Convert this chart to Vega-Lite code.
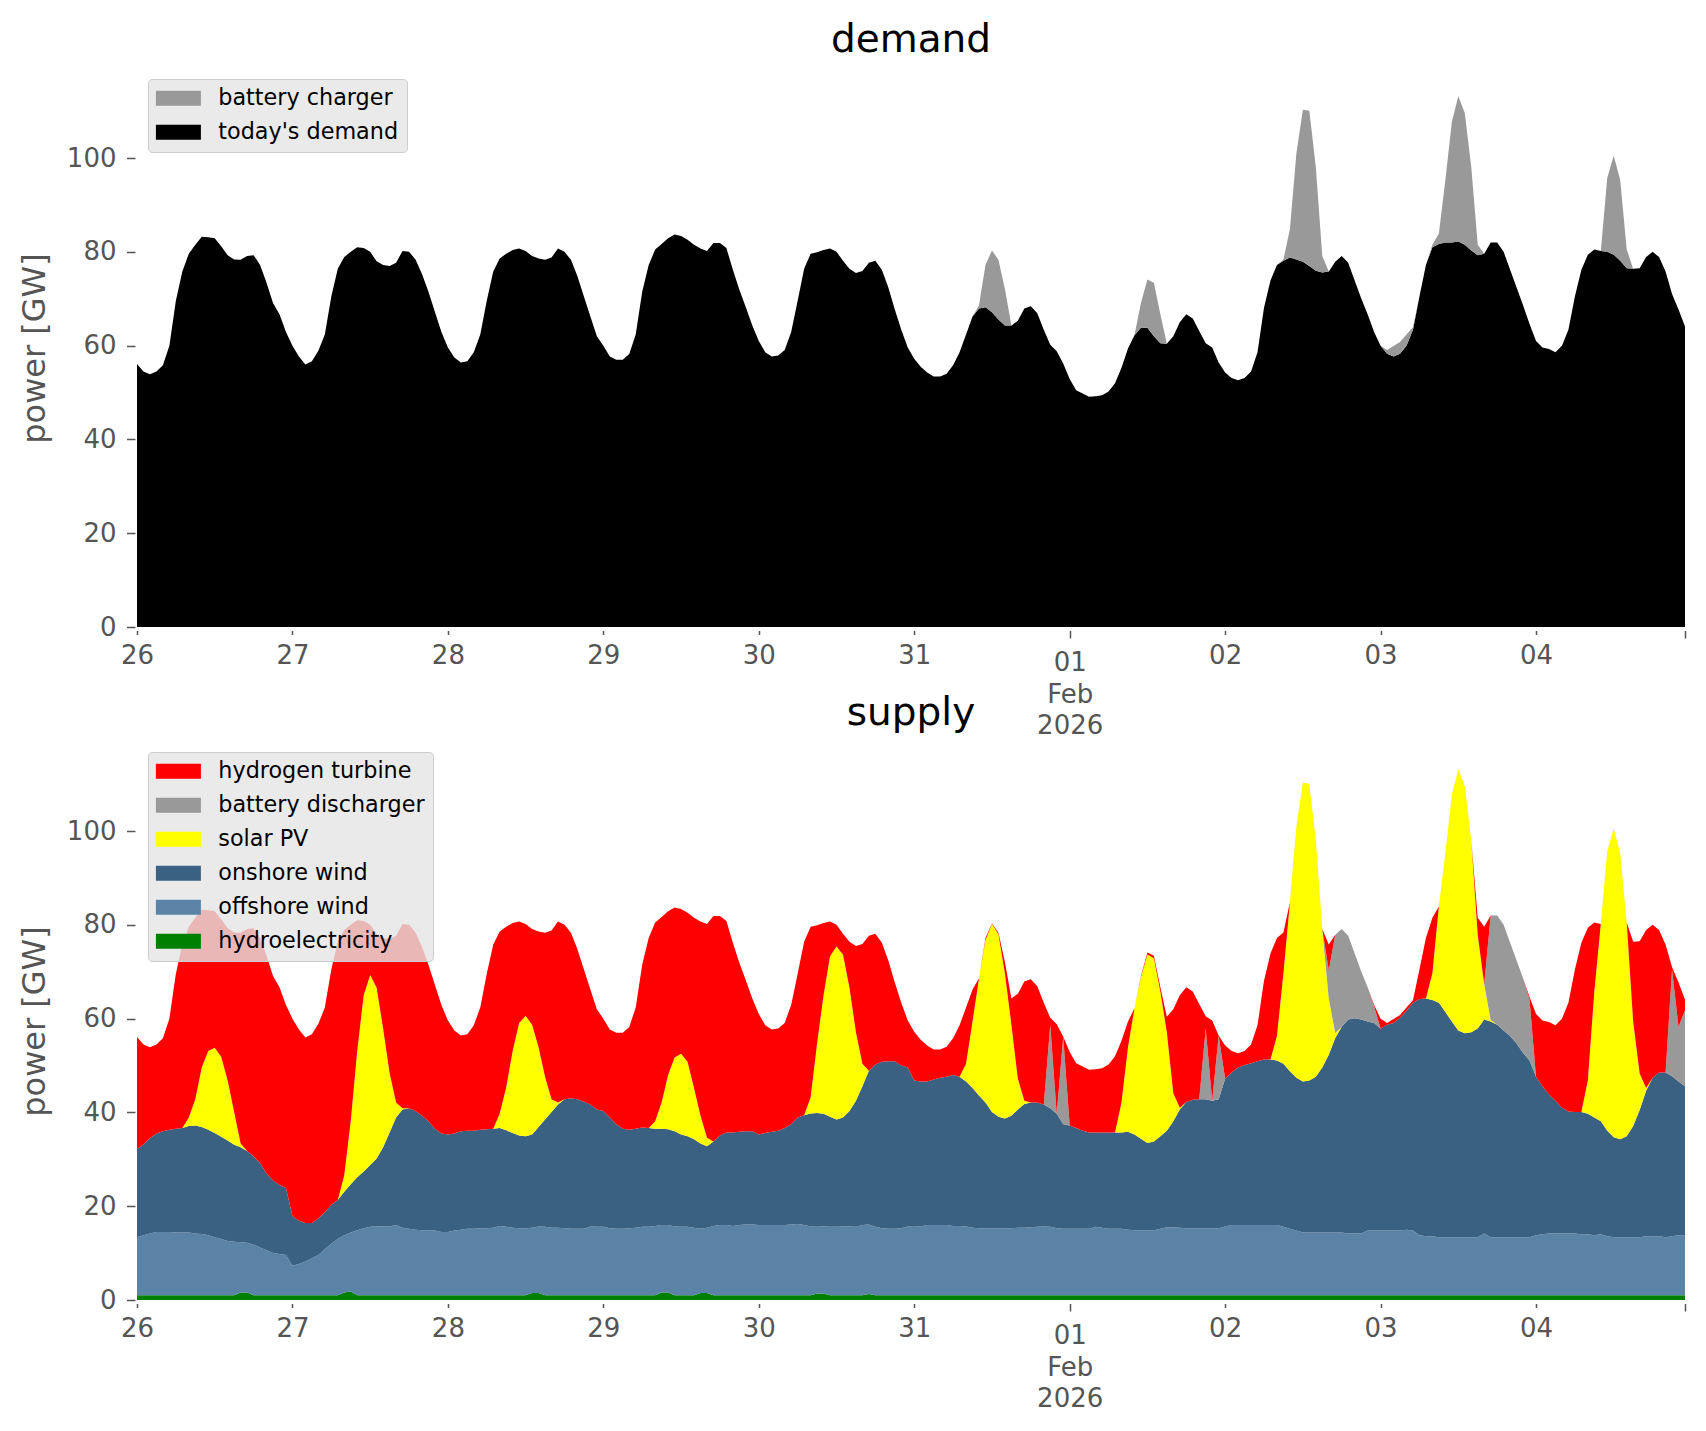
{
  "$schema": "https://vega.github.io/schema/vega-lite/v6.json",
  "padding": {"left": 18, "top": 21, "right": 10, "bottom": 10},
  "datasets": {
    "series": [
      {"k": "dem", "name": "today's demand", "rank": 1},
      {"k": "chg", "name": "battery charger", "rank": 2},
      {"k": "hyd", "name": "hydroelectricity", "rank": 1},
      {"k": "off", "name": "offshore wind", "rank": 2},
      {"k": "on", "name": "onshore wind", "rank": 3},
      {"k": "pv", "name": "solar PV", "rank": 4},
      {"k": "dis", "name": "battery discharger", "rank": 5},
      {"k": "h2", "name": "hydrogen turbine", "rank": 6}
    ],
    "hourly": [
      {"t":"2026-01-26T00:00","dem":56.1,"chg":0,"hyd":1,"off":12.4,"on":18.8,"pv":0,"dis":0,"h2":23.9},
      {"t":"2026-01-26T01:00","dem":54.5,"chg":0,"hyd":1,"off":12.8,"on":19.4,"pv":0,"dis":0,"h2":21.3},
      {"t":"2026-01-26T02:00","dem":53.9,"chg":0,"hyd":1,"off":13.2,"on":20.3,"pv":0,"dis":0,"h2":19.4},
      {"t":"2026-01-26T03:00","dem":54.5,"chg":0,"hyd":1,"off":13.5,"on":21,"pv":0,"dis":0,"h2":19},
      {"t":"2026-01-26T04:00","dem":55.8,"chg":0,"hyd":1,"off":13.5,"on":21.5,"pv":0,"dis":0,"h2":19.8},
      {"t":"2026-01-26T05:00","dem":60,"chg":0,"hyd":1,"off":13.5,"on":21.8,"pv":0,"dis":0,"h2":23.7},
      {"t":"2026-01-26T06:00","dem":69.6,"chg":0,"hyd":1,"off":13.4,"on":22.1,"pv":0,"dis":0,"h2":33.1},
      {"t":"2026-01-26T07:00","dem":75.8,"chg":0,"hyd":1,"off":13.4,"on":22.3,"pv":0,"dis":0,"h2":39.1},
      {"t":"2026-01-26T08:00","dem":79.6,"chg":0,"hyd":1,"off":13.4,"on":22.7,"pv":1.8,"dis":0,"h2":40.7},
      {"t":"2026-01-26T09:00","dem":81.5,"chg":0,"hyd":1,"off":13.2,"on":23,"pv":5.6,"dis":0,"h2":38.7},
      {"t":"2026-01-26T10:00","dem":83.2,"chg":0,"hyd":1,"off":13.1,"on":22.8,"pv":12.7,"dis":0,"h2":33.6},
      {"t":"2026-01-26T11:00","dem":83.1,"chg":0,"hyd":1,"off":12.8,"on":22.5,"pv":16.8,"dis":0,"h2":30},
      {"t":"2026-01-26T12:00","dem":82.9,"chg":0,"hyd":1,"off":12.4,"on":22.2,"pv":18.2,"dis":0,"h2":29.1},
      {"t":"2026-01-26T13:00","dem":81.2,"chg":0,"hyd":1,"off":12,"on":21.8,"pv":17.1,"dis":0,"h2":29.3},
      {"t":"2026-01-26T14:00","dem":79.3,"chg":0,"hyd":1,"off":11.6,"on":21.4,"pv":12.8,"dis":0,"h2":32.5},
      {"t":"2026-01-26T15:00","dem":78.4,"chg":0,"hyd":1,"off":11.4,"on":20.7,"pv":7,"dis":0,"h2":38.3},
      {"t":"2026-01-26T16:00","dem":78.3,"chg":0,"hyd":1.6,"off":10.7,"on":20.3,"pv":0.8,"dis":0,"h2":44.9},
      {"t":"2026-01-26T17:00","dem":79.1,"chg":0,"hyd":1.6,"off":10.6,"on":19.6,"pv":0,"dis":0,"h2":47.3},
      {"t":"2026-01-26T18:00","dem":79.3,"chg":0,"hyd":1,"off":10.8,"on":18.8,"pv":0,"dis":0,"h2":48.7},
      {"t":"2026-01-26T19:00","dem":77.2,"chg":0,"hyd":1,"off":10.2,"on":18,"pv":0,"dis":0,"h2":48},
      {"t":"2026-01-26T20:00","dem":73.4,"chg":0,"hyd":1,"off":9.6,"on":16.4,"pv":0,"dis":0,"h2":46.4},
      {"t":"2026-01-26T21:00","dem":69.1,"chg":0,"hyd":1,"off":9,"on":15.5,"pv":0,"dis":0,"h2":43.6},
      {"t":"2026-01-26T22:00","dem":66.7,"chg":0,"hyd":1,"off":8.8,"on":14.7,"pv":0,"dis":0,"h2":42.2},
      {"t":"2026-01-26T23:00","dem":62.9,"chg":0,"hyd":1,"off":8.6,"on":14.3,"pv":0,"dis":0,"h2":39},
      {"t":"2026-01-27T00:00","dem":60,"chg":0,"hyd":1,"off":6.3,"on":10.6,"pv":0,"dis":0,"h2":42.1},
      {"t":"2026-01-27T01:00","dem":57.7,"chg":0,"hyd":1,"off":6.7,"on":9.2,"pv":0,"dis":0,"h2":40.8},
      {"t":"2026-01-27T02:00","dem":56,"chg":0,"hyd":1,"off":7.2,"on":8.2,"pv":0,"dis":0,"h2":39.6},
      {"t":"2026-01-27T03:00","dem":56.7,"chg":0,"hyd":1,"off":7.9,"on":7.5,"pv":0,"dis":0,"h2":40.3},
      {"t":"2026-01-27T04:00","dem":58.9,"chg":0,"hyd":1,"off":8.6,"on":7.8,"pv":0,"dis":0,"h2":41.5},
      {"t":"2026-01-27T05:00","dem":62.4,"chg":0,"hyd":1,"off":9.8,"on":7.9,"pv":0,"dis":0,"h2":43.7},
      {"t":"2026-01-27T06:00","dem":70.5,"chg":0,"hyd":1,"off":11,"on":8.3,"pv":0,"dis":0,"h2":50.2},
      {"t":"2026-01-27T07:00","dem":76.4,"chg":0,"hyd":1,"off":12,"on":8.3,"pv":0,"dis":0,"h2":55.1},
      {"t":"2026-01-27T08:00","dem":78.9,"chg":0,"hyd":1.6,"off":12.2,"on":9.3,"pv":3.5,"dis":0,"h2":52.3},
      {"t":"2026-01-27T09:00","dem":80,"chg":0,"hyd":1.8,"off":12.6,"on":10.3,"pv":13.4,"dis":0,"h2":41.9},
      {"t":"2026-01-27T10:00","dem":81,"chg":0,"hyd":1,"off":13.9,"on":11.3,"pv":26.9,"dis":0,"h2":27.9},
      {"t":"2026-01-27T11:00","dem":80.8,"chg":0,"hyd":1,"off":14.3,"on":12.1,"pv":37.6,"dis":0,"h2":15.8},
      {"t":"2026-01-27T12:00","dem":80,"chg":0,"hyd":1,"off":14.6,"on":13.2,"pv":40.5,"dis":0,"h2":10.7},
      {"t":"2026-01-27T13:00","dem":78,"chg":0,"hyd":1,"off":14.7,"on":14.5,"pv":36.4,"dis":0,"h2":11.4},
      {"t":"2026-01-27T14:00","dem":77.2,"chg":0,"hyd":1,"off":14.7,"on":16.9,"pv":25.3,"dis":0,"h2":19.3},
      {"t":"2026-01-27T15:00","dem":77,"chg":0,"hyd":1,"off":14.7,"on":20,"pv":12.7,"dis":0,"h2":28.6},
      {"t":"2026-01-27T16:00","dem":77.7,"chg":0,"hyd":1,"off":15,"on":22.9,"pv":3.2,"dis":0,"h2":35.6},
      {"t":"2026-01-27T17:00","dem":80.2,"chg":0,"hyd":1,"off":14.4,"on":25.2,"pv":0.3,"dis":0,"h2":39.3},
      {"t":"2026-01-27T18:00","dem":80,"chg":0,"hyd":1,"off":14.2,"on":25.7,"pv":0,"dis":0,"h2":39.1},
      {"t":"2026-01-27T19:00","dem":78.4,"chg":0,"hyd":1,"off":14,"on":25.3,"pv":0,"dis":0,"h2":38.1},
      {"t":"2026-01-27T20:00","dem":75.3,"chg":0,"hyd":1,"off":13.9,"on":24.4,"pv":0,"dis":0,"h2":36},
      {"t":"2026-01-27T21:00","dem":71.5,"chg":0,"hyd":1,"off":13.9,"on":23.2,"pv":0,"dis":0,"h2":33.4},
      {"t":"2026-01-27T22:00","dem":67.2,"chg":0,"hyd":1,"off":13.8,"on":21.7,"pv":0,"dis":0,"h2":30.7},
      {"t":"2026-01-27T23:00","dem":62.9,"chg":0,"hyd":1,"off":13.5,"on":21,"pv":0,"dis":0,"h2":27.4},
      {"t":"2026-01-28T00:00","dem":59.6,"chg":0,"hyd":1,"off":13.5,"on":20.8,"pv":0,"dis":0,"h2":24.3},
      {"t":"2026-01-28T01:00","dem":57.5,"chg":0,"hyd":1,"off":13.8,"on":20.7,"pv":0,"dis":0,"h2":22},
      {"t":"2026-01-28T02:00","dem":56.4,"chg":0,"hyd":1,"off":14,"on":21,"pv":0,"dis":0,"h2":20.4},
      {"t":"2026-01-28T03:00","dem":56.7,"chg":0,"hyd":1,"off":14.2,"on":20.9,"pv":0,"dis":0,"h2":20.6},
      {"t":"2026-01-28T04:00","dem":58.6,"chg":0,"hyd":1,"off":14.2,"on":20.9,"pv":0,"dis":0,"h2":22.5},
      {"t":"2026-01-28T05:00","dem":62.4,"chg":0,"hyd":1,"off":14.3,"on":21,"pv":0,"dis":0,"h2":26.1},
      {"t":"2026-01-28T06:00","dem":69.6,"chg":0,"hyd":1,"off":14.3,"on":21.1,"pv":0,"dis":0,"h2":33.2},
      {"t":"2026-01-28T07:00","dem":75.8,"chg":0,"hyd":1,"off":14.4,"on":21.1,"pv":0,"dis":0,"h2":39.3},
      {"t":"2026-01-28T08:00","dem":78.6,"chg":0,"hyd":1,"off":14.8,"on":20.9,"pv":3,"dis":0,"h2":38.9},
      {"t":"2026-01-28T09:00","dem":79.6,"chg":0,"hyd":1,"off":14.6,"on":20.6,"pv":9.1,"dis":0,"h2":34.3},
      {"t":"2026-01-28T10:00","dem":80.4,"chg":0,"hyd":1,"off":14.4,"on":20.2,"pv":17.5,"dis":0,"h2":27.3},
      {"t":"2026-01-28T11:00","dem":80.7,"chg":0,"hyd":1,"off":14.3,"on":19.8,"pv":24,"dis":0,"h2":21.6},
      {"t":"2026-01-28T12:00","dem":80.2,"chg":0,"hyd":1,"off":14.3,"on":19.6,"pv":25.7,"dis":0,"h2":19.6},
      {"t":"2026-01-28T13:00","dem":79.1,"chg":0,"hyd":1.5,"off":13.9,"on":19.9,"pv":23.4,"dis":0,"h2":20.4},
      {"t":"2026-01-28T14:00","dem":78.6,"chg":0,"hyd":1.5,"off":14.2,"on":21.2,"pv":17,"dis":0,"h2":24.7},
      {"t":"2026-01-28T15:00","dem":78.3,"chg":0,"hyd":1,"off":14.6,"on":22.9,"pv":9.1,"dis":0,"h2":30.7},
      {"t":"2026-01-28T16:00","dem":78.8,"chg":0,"hyd":1,"off":14.4,"on":24.7,"pv":2.7,"dis":0,"h2":36},
      {"t":"2026-01-28T17:00","dem":80.7,"chg":0,"hyd":1,"off":14.4,"on":26.3,"pv":0.4,"dis":0,"h2":38.6},
      {"t":"2026-01-28T18:00","dem":80,"chg":0,"hyd":1,"off":14.3,"on":27.5,"pv":0,"dis":0,"h2":37.2},
      {"t":"2026-01-28T19:00","dem":78.3,"chg":0,"hyd":1,"off":14.2,"on":27.8,"pv":0,"dis":0,"h2":35.3},
      {"t":"2026-01-28T20:00","dem":74.8,"chg":0,"hyd":1,"off":14.2,"on":27.6,"pv":0,"dis":0,"h2":32},
      {"t":"2026-01-28T21:00","dem":70.5,"chg":0,"hyd":1,"off":14.2,"on":27.1,"pv":0,"dis":0,"h2":28.2},
      {"t":"2026-01-28T22:00","dem":66.2,"chg":0,"hyd":1,"off":14.7,"on":26,"pv":0,"dis":0,"h2":24.5},
      {"t":"2026-01-28T23:00","dem":62,"chg":0,"hyd":1,"off":14.6,"on":25,"pv":0,"dis":0,"h2":21.4},
      {"t":"2026-01-29T00:00","dem":60,"chg":0,"hyd":1,"off":14.6,"on":24.7,"pv":0,"dis":0,"h2":19.7},
      {"t":"2026-01-29T01:00","dem":57.7,"chg":0,"hyd":1,"off":14.3,"on":23.6,"pv":0,"dis":0,"h2":18.8},
      {"t":"2026-01-29T02:00","dem":57,"chg":0,"hyd":1,"off":14.2,"on":22.3,"pv":0,"dis":0,"h2":19.5},
      {"t":"2026-01-29T03:00","dem":57,"chg":0,"hyd":1,"off":14.2,"on":21.3,"pv":0,"dis":0,"h2":20.5},
      {"t":"2026-01-29T04:00","dem":58.2,"chg":0,"hyd":1,"off":14.3,"on":21,"pv":0,"dis":0,"h2":21.9},
      {"t":"2026-01-29T05:00","dem":62.4,"chg":0,"hyd":1,"off":14.4,"on":21.1,"pv":0,"dis":0,"h2":25.9},
      {"t":"2026-01-29T06:00","dem":71.5,"chg":0,"hyd":1,"off":14.6,"on":21.2,"pv":0,"dis":0,"h2":34.7},
      {"t":"2026-01-29T07:00","dem":77.2,"chg":0,"hyd":1,"off":14.6,"on":21.1,"pv":0,"dis":0,"h2":40.5},
      {"t":"2026-01-29T08:00","dem":80.5,"chg":0,"hyd":1,"off":14.8,"on":20.7,"pv":1.6,"dis":0,"h2":42.4},
      {"t":"2026-01-29T09:00","dem":81.7,"chg":0,"hyd":1.6,"off":14.4,"on":20.5,"pv":5.6,"dis":0,"h2":39.6},
      {"t":"2026-01-29T10:00","dem":82.9,"chg":0,"hyd":1.6,"off":14.4,"on":20.4,"pv":11.6,"dis":0,"h2":34.9},
      {"t":"2026-01-29T11:00","dem":83.7,"chg":0,"hyd":1,"off":14.7,"on":20.3,"pv":15.7,"dis":0,"h2":32},
      {"t":"2026-01-29T12:00","dem":83.4,"chg":0,"hyd":1,"off":14.6,"on":19.7,"pv":17.2,"dis":0,"h2":30.9},
      {"t":"2026-01-29T13:00","dem":82.6,"chg":0,"hyd":1,"off":14.6,"on":19.3,"pv":15.9,"dis":0,"h2":31.8},
      {"t":"2026-01-29T14:00","dem":81.5,"chg":0,"hyd":1,"off":14.4,"on":18.9,"pv":10.9,"dis":0,"h2":36.3},
      {"t":"2026-01-29T15:00","dem":80.7,"chg":0,"hyd":1.5,"off":13.7,"on":18.2,"pv":5.9,"dis":0,"h2":41.4},
      {"t":"2026-01-29T16:00","dem":80.2,"chg":0,"hyd":1.5,"off":13.9,"on":17.4,"pv":1.8,"dis":0,"h2":45.6},
      {"t":"2026-01-29T17:00","dem":81.9,"chg":0,"hyd":1,"off":14.8,"on":18,"pv":0,"dis":0,"h2":48.1},
      {"t":"2026-01-29T18:00","dem":81.9,"chg":0,"hyd":1,"off":15,"on":19.1,"pv":0,"dis":0,"h2":46.8},
      {"t":"2026-01-29T19:00","dem":80.8,"chg":0,"hyd":1,"off":15,"on":19.7,"pv":0,"dis":0,"h2":45.1},
      {"t":"2026-01-29T20:00","dem":76.2,"chg":0,"hyd":1,"off":14.8,"on":19.9,"pv":0,"dis":0,"h2":40.5},
      {"t":"2026-01-29T21:00","dem":71.9,"chg":0,"hyd":1,"off":15,"on":19.9,"pv":0,"dis":0,"h2":36},
      {"t":"2026-01-29T22:00","dem":68.2,"chg":0,"hyd":1,"off":15.1,"on":19.9,"pv":0,"dis":0,"h2":32.2},
      {"t":"2026-01-29T23:00","dem":64.3,"chg":0,"hyd":1,"off":15.1,"on":19.9,"pv":0,"dis":0,"h2":28.3},
      {"t":"2026-01-30T00:00","dem":61,"chg":0,"hyd":1,"off":15,"on":19.3,"pv":0,"dis":0,"h2":25.7},
      {"t":"2026-01-30T01:00","dem":58.6,"chg":0,"hyd":1,"off":15,"on":19.6,"pv":0,"dis":0,"h2":23},
      {"t":"2026-01-30T02:00","dem":57.7,"chg":0,"hyd":1,"off":15,"on":19.9,"pv":0,"dis":0,"h2":21.8},
      {"t":"2026-01-30T03:00","dem":57.9,"chg":0,"hyd":1,"off":15,"on":20.1,"pv":0,"dis":0,"h2":21.8},
      {"t":"2026-01-30T04:00","dem":59.1,"chg":0,"hyd":1,"off":15,"on":20.7,"pv":0,"dis":0,"h2":22.4},
      {"t":"2026-01-30T05:00","dem":62.9,"chg":0,"hyd":1,"off":15.1,"on":21.4,"pv":0,"dis":0,"h2":25.4},
      {"t":"2026-01-30T06:00","dem":69.6,"chg":0,"hyd":1,"off":15.2,"on":22.7,"pv":0,"dis":0,"h2":30.7},
      {"t":"2026-01-30T07:00","dem":76.4,"chg":0,"hyd":1,"off":15,"on":23.4,"pv":0,"dis":0,"h2":37},
      {"t":"2026-01-30T08:00","dem":79.6,"chg":0,"hyd":1,"off":14.7,"on":24.1,"pv":3.4,"dis":0,"h2":36.4},
      {"t":"2026-01-30T09:00","dem":79.9,"chg":0,"hyd":1.4,"off":14.2,"on":24.3,"pv":14.8,"dis":0,"h2":25.2},
      {"t":"2026-01-30T10:00","dem":80.4,"chg":0,"hyd":1.4,"off":14.3,"on":24,"pv":25.3,"dis":0,"h2":15.4},
      {"t":"2026-01-30T11:00","dem":80.7,"chg":0,"hyd":1,"off":14.6,"on":23.5,"pv":34.2,"dis":0,"h2":7.4},
      {"t":"2026-01-30T12:00","dem":80,"chg":0,"hyd":1,"off":14.6,"on":22.9,"pv":36.9,"dis":0,"h2":4.6},
      {"t":"2026-01-30T13:00","dem":78.1,"chg":0,"hyd":1,"off":14.7,"on":23.2,"pv":34.8,"dis":0,"h2":4.4},
      {"t":"2026-01-30T14:00","dem":76.4,"chg":0,"hyd":1,"off":14.7,"on":24.6,"pv":26.3,"dis":0,"h2":9.8},
      {"t":"2026-01-30T15:00","dem":75.5,"chg":0,"hyd":1,"off":14.6,"on":26.9,"pv":14.6,"dis":0,"h2":18.4},
      {"t":"2026-01-30T16:00","dem":75.9,"chg":0,"hyd":1,"off":15,"on":29.6,"pv":4.8,"dis":0,"h2":25.5},
      {"t":"2026-01-30T17:00","dem":77.7,"chg":0,"hyd":1.3,"off":14.8,"on":32.8,"pv":0,"dis":0,"h2":28.8},
      {"t":"2026-01-30T18:00","dem":78.1,"chg":0,"hyd":1,"off":14.6,"on":34.6,"pv":0,"dis":0,"h2":27.9},
      {"t":"2026-01-30T19:00","dem":76.2,"chg":0,"hyd":1,"off":14.3,"on":35.5,"pv":0,"dis":0,"h2":25.4},
      {"t":"2026-01-30T20:00","dem":72.4,"chg":0,"hyd":1,"off":14.2,"on":35.7,"pv":0,"dis":0,"h2":21.5},
      {"t":"2026-01-30T21:00","dem":67.7,"chg":0,"hyd":1,"off":14.2,"on":35.7,"pv":0,"dis":0,"h2":16.8},
      {"t":"2026-01-30T22:00","dem":63.4,"chg":0,"hyd":1,"off":14.3,"on":34.7,"pv":0,"dis":0,"h2":13.4},
      {"t":"2026-01-30T23:00","dem":59.6,"chg":0,"hyd":1,"off":14.7,"on":33.9,"pv":0,"dis":0,"h2":10},
      {"t":"2026-01-31T00:00","dem":57.2,"chg":0,"hyd":1,"off":14.6,"on":31.2,"pv":0,"dis":0,"h2":10.4},
      {"t":"2026-01-31T01:00","dem":55.5,"chg":0,"hyd":1,"off":14.7,"on":30.9,"pv":0,"dis":0,"h2":8.9},
      {"t":"2026-01-31T02:00","dem":54.3,"chg":0,"hyd":1,"off":15,"on":30.6,"pv":0,"dis":0,"h2":7.7},
      {"t":"2026-01-31T03:00","dem":53.4,"chg":0,"hyd":1,"off":15,"on":31,"pv":0,"dis":0,"h2":6.4},
      {"t":"2026-01-31T04:00","dem":53.4,"chg":0,"hyd":1,"off":15,"on":31.4,"pv":0,"dis":0,"h2":6},
      {"t":"2026-01-31T05:00","dem":54,"chg":0,"hyd":1,"off":15,"on":31.6,"pv":0,"dis":0,"h2":6.4},
      {"t":"2026-01-31T06:00","dem":55.8,"chg":0,"hyd":1,"off":14.8,"on":32.2,"pv":0,"dis":0,"h2":7.8},
      {"t":"2026-01-31T07:00","dem":58.6,"chg":0,"hyd":1,"off":14.8,"on":31.8,"pv":0,"dis":0,"h2":11},
      {"t":"2026-01-31T08:00","dem":62.4,"chg":0,"hyd":1,"off":14.7,"on":30.9,"pv":3.8,"dis":0,"h2":12},
      {"t":"2026-01-31T09:00","dem":66.2,"chg":0,"hyd":1,"off":14.4,"on":29.8,"pv":14.2,"dis":0,"h2":6.8},
      {"t":"2026-01-31T10:00","dem":67.9,"chg":0.7,"hyd":1,"off":14.3,"on":28.3,"pv":25,"dis":0,"h2":0},
      {"t":"2026-01-31T11:00","dem":68.2,"chg":9,"hyd":1,"off":14.3,"on":26.8,"pv":34.7,"dis":0,"h2":0.4},
      {"t":"2026-01-31T12:00","dem":67.1,"chg":13.2,"hyd":1,"off":14.3,"on":24.8,"pv":40.1,"dis":0,"h2":0.1},
      {"t":"2026-01-31T13:00","dem":65.6,"chg":12.7,"hyd":1,"off":14.3,"on":23.8,"pv":38.9,"dis":0,"h2":0.3},
      {"t":"2026-01-31T14:00","dem":64.3,"chg":7.8,"hyd":1,"off":14.3,"on":23.4,"pv":31,"dis":0,"h2":2.4},
      {"t":"2026-01-31T15:00","dem":64.3,"chg":0,"hyd":1,"off":14.3,"on":24,"pv":19.4,"dis":0,"h2":5.6},
      {"t":"2026-01-31T16:00","dem":65.3,"chg":0,"hyd":1,"off":14.4,"on":25.2,"pv":6.6,"dis":0,"h2":18.1},
      {"t":"2026-01-31T17:00","dem":67.9,"chg":0,"hyd":1,"off":14.4,"on":26.4,"pv":0.7,"dis":0,"h2":25.4},
      {"t":"2026-01-31T18:00","dem":68.4,"chg":0,"hyd":1,"off":14.5,"on":26.6,"pv":0,"dis":0,"h2":26.3},
      {"t":"2026-01-31T19:00","dem":66.9,"chg":0,"hyd":1,"off":14.6,"on":26.5,"pv":0,"dis":0,"h2":24.8},
      {"t":"2026-01-31T20:00","dem":63.4,"chg":0,"hyd":1,"off":14.7,"on":26,"pv":0,"dis":0,"h2":21.7},
      {"t":"2026-01-31T21:00","dem":60.2,"chg":0,"hyd":1,"off":14.6,"on":25.3,"pv":0,"dis":17.8,"h2":1.5},
      {"t":"2026-01-31T22:00","dem":58.8,"chg":0,"hyd":1,"off":14.3,"on":24.4,"pv":0,"dis":0,"h2":19.1},
      {"t":"2026-01-31T23:00","dem":56.2,"chg":0,"hyd":1,"off":14.2,"on":22.3,"pv":0,"dis":18.7,"h2":0},
      {"t":"2026-02-01T00:00","dem":52.9,"chg":0,"hyd":1,"off":14.2,"on":22,"pv":0,"dis":0,"h2":15.7},
      {"t":"2026-02-01T01:00","dem":50.5,"chg":0,"hyd":1,"off":14.2,"on":21.5,"pv":0,"dis":0,"h2":13.8},
      {"t":"2026-02-01T02:00","dem":49.8,"chg":0,"hyd":1,"off":14.2,"on":20.9,"pv":0,"dis":0,"h2":13.7},
      {"t":"2026-02-01T03:00","dem":49.1,"chg":0,"hyd":1,"off":14.2,"on":20.5,"pv":0,"dis":0,"h2":13.4},
      {"t":"2026-02-01T04:00","dem":49.2,"chg":0,"hyd":1,"off":14.6,"on":20.1,"pv":0,"dis":0,"h2":13.5},
      {"t":"2026-02-01T05:00","dem":49.4,"chg":0,"hyd":1,"off":14.4,"on":20.3,"pv":0,"dis":0,"h2":13.7},
      {"t":"2026-02-01T06:00","dem":50.2,"chg":0,"hyd":1,"off":14.2,"on":20.5,"pv":0,"dis":0,"h2":14.5},
      {"t":"2026-02-01T07:00","dem":52,"chg":0,"hyd":1,"off":14.2,"on":20.5,"pv":0,"dis":0,"h2":16.3},
      {"t":"2026-02-01T08:00","dem":55.3,"chg":0,"hyd":1,"off":14.2,"on":20.5,"pv":6.4,"dis":0,"h2":13.2},
      {"t":"2026-02-01T09:00","dem":59.4,"chg":0,"hyd":1,"off":14,"on":20.9,"pv":18,"dis":0,"h2":5.5},
      {"t":"2026-02-01T10:00","dem":62.2,"chg":0,"hyd":1,"off":13.9,"on":20.4,"pv":26.9,"dis":0,"h2":0},
      {"t":"2026-02-01T11:00","dem":63.8,"chg":5.3,"hyd":1,"off":13.9,"on":19.5,"pv":34.5,"dis":0,"h2":0.2},
      {"t":"2026-02-01T12:00","dem":63.8,"chg":10.3,"hyd":1,"off":13.8,"on":18.7,"pv":40.2,"dis":0,"h2":0.4},
      {"t":"2026-02-01T13:00","dem":62,"chg":11.4,"hyd":1,"off":13.9,"on":18.9,"pv":39.1,"dis":0,"h2":0.5},
      {"t":"2026-02-01T14:00","dem":60.5,"chg":6.2,"hyd":1,"off":14.2,"on":19.7,"pv":30.9,"dis":0,"h2":0.9},
      {"t":"2026-02-01T15:00","dem":60.4,"chg":0,"hyd":1,"off":14.5,"on":20.6,"pv":21,"dis":0,"h2":3.3},
      {"t":"2026-02-01T16:00","dem":62,"chg":0,"hyd":1,"off":14.5,"on":22.6,"pv":6,"dis":0,"h2":17.9},
      {"t":"2026-02-01T17:00","dem":65,"chg":0,"hyd":1,"off":14.4,"on":25.2,"pv":0.4,"dis":0,"h2":24},
      {"t":"2026-02-01T18:00","dem":66.7,"chg":0,"hyd":1,"off":14.3,"on":26.9,"pv":0,"dis":0,"h2":24.5},
      {"t":"2026-02-01T19:00","dem":65.8,"chg":0,"hyd":1,"off":14.3,"on":27.4,"pv":0,"dis":0,"h2":23.1},
      {"t":"2026-02-01T20:00","dem":63.1,"chg":0,"hyd":1,"off":14.3,"on":27.5,"pv":0,"dis":0,"h2":20.3},
      {"t":"2026-02-01T21:00","dem":60.5,"chg":0,"hyd":1,"off":14.3,"on":27.5,"pv":0,"dis":15.1,"h2":2.6},
      {"t":"2026-02-01T22:00","dem":59.6,"chg":0,"hyd":1,"off":14.3,"on":27.2,"pv":0,"dis":0,"h2":17.1},
      {"t":"2026-02-01T23:00","dem":56.4,"chg":0,"hyd":1,"off":14.3,"on":27.5,"pv":0,"dis":13.6,"h2":0},
      {"t":"2026-02-02T00:00","dem":54.3,"chg":0,"hyd":1,"off":14.7,"on":31.5,"pv":0,"dis":0,"h2":7.1},
      {"t":"2026-02-02T01:00","dem":53.1,"chg":0,"hyd":1,"off":15,"on":32.5,"pv":0,"dis":0,"h2":4.6},
      {"t":"2026-02-02T02:00","dem":52.6,"chg":0,"hyd":1,"off":15,"on":33.6,"pv":0,"dis":0,"h2":3},
      {"t":"2026-02-02T03:00","dem":53.1,"chg":0,"hyd":1,"off":15,"on":34.1,"pv":0,"dis":0,"h2":3},
      {"t":"2026-02-02T04:00","dem":54.5,"chg":0,"hyd":1,"off":15,"on":34.5,"pv":0,"dis":0,"h2":4},
      {"t":"2026-02-02T05:00","dem":58.6,"chg":0,"hyd":1,"off":15,"on":34.9,"pv":0,"dis":0,"h2":7.7},
      {"t":"2026-02-02T06:00","dem":68.1,"chg":0,"hyd":1,"off":15,"on":35.3,"pv":0,"dis":0,"h2":16.8},
      {"t":"2026-02-02T07:00","dem":73.9,"chg":0,"hyd":1,"off":15,"on":35.3,"pv":0,"dis":0,"h2":22.6},
      {"t":"2026-02-02T08:00","dem":77.2,"chg":0,"hyd":1,"off":15,"on":35.1,"pv":5.2,"dis":0,"h2":20.9},
      {"t":"2026-02-02T09:00","dem":78.1,"chg":0.3,"hyd":1,"off":14.6,"on":34.8,"pv":19.3,"dis":0,"h2":8.7},
      {"t":"2026-02-02T10:00","dem":78.8,"chg":6,"hyd":1,"off":14.2,"on":33.6,"pv":35.9,"dis":0,"h2":0.1},
      {"t":"2026-02-02T11:00","dem":78.4,"chg":22.6,"hyd":1,"off":13.8,"on":32.6,"pv":53.6,"dis":0,"h2":0},
      {"t":"2026-02-02T12:00","dem":77.9,"chg":32.4,"hyd":1,"off":13.4,"on":32.2,"pv":63.7,"dis":0,"h2":0},
      {"t":"2026-02-02T13:00","dem":77,"chg":33.1,"hyd":1,"off":13.4,"on":32.4,"pv":63.3,"dis":0,"h2":0},
      {"t":"2026-02-02T14:00","dem":76,"chg":22.1,"hyd":1,"off":13.4,"on":33.2,"pv":50.5,"dis":0,"h2":0},
      {"t":"2026-02-02T15:00","dem":75.6,"chg":3.5,"hyd":1,"off":13.4,"on":35.2,"pv":29.5,"dis":0,"h2":0},
      {"t":"2026-02-02T16:00","dem":75.8,"chg":0,"hyd":1,"off":13.4,"on":37.9,"pv":12,"dis":6,"h2":5.5},
      {"t":"2026-02-02T17:00","dem":77.9,"chg":0,"hyd":1,"off":13.4,"on":41.5,"pv":1,"dis":21,"h2":0},
      {"t":"2026-02-02T18:00","dem":79.1,"chg":0,"hyd":1,"off":13.4,"on":43.9,"pv":0,"dis":20.8,"h2":0},
      {"t":"2026-02-02T19:00","dem":77.7,"chg":0,"hyd":1,"off":13.2,"on":45.6,"pv":0,"dis":17.9,"h2":0},
      {"t":"2026-02-02T20:00","dem":73.9,"chg":0,"hyd":1,"off":13.2,"on":45.9,"pv":0,"dis":13.8,"h2":0},
      {"t":"2026-02-02T21:00","dem":70.1,"chg":0,"hyd":1,"off":13.2,"on":45.6,"pv":0,"dis":10.3,"h2":0},
      {"t":"2026-02-02T22:00","dem":66.7,"chg":0,"hyd":1,"off":13.8,"on":44.6,"pv":0,"dis":7.3,"h2":0},
      {"t":"2026-02-02T23:00","dem":62.9,"chg":0,"hyd":1,"off":13.8,"on":44.3,"pv":0,"dis":3.5,"h2":0.3},
      {"t":"2026-02-03T00:00","dem":60,"chg":0,"hyd":1,"off":13.8,"on":43.1,"pv":0,"dis":0,"h2":2.1},
      {"t":"2026-02-03T01:00","dem":58.3,"chg":0.8,"hyd":1,"off":13.8,"on":43.9,"pv":0,"dis":0,"h2":0.4},
      {"t":"2026-02-03T02:00","dem":57.7,"chg":2.2,"hyd":1,"off":13.8,"on":44.3,"pv":0,"dis":0,"h2":0.8},
      {"t":"2026-02-03T03:00","dem":58.3,"chg":2.5,"hyd":1,"off":13.8,"on":45.4,"pv":0,"dis":0,"h2":0.6},
      {"t":"2026-02-03T04:00","dem":60,"chg":2.4,"hyd":1,"off":14,"on":46.7,"pv":0,"dis":0,"h2":0.7},
      {"t":"2026-02-03T05:00","dem":63.4,"chg":0.5,"hyd":1,"off":13.8,"on":48.6,"pv":0,"dis":0,"h2":0.5},
      {"t":"2026-02-03T06:00","dem":70.5,"chg":0,"hyd":1,"off":12.8,"on":50.4,"pv":0,"dis":0,"h2":6.3},
      {"t":"2026-02-03T07:00","dem":77.2,"chg":0,"hyd":1,"off":12.6,"on":50.7,"pv":0,"dis":0,"h2":12.9},
      {"t":"2026-02-03T08:00","dem":81,"chg":0.5,"hyd":1,"off":12.6,"on":50.4,"pv":5.7,"dis":0,"h2":11.8},
      {"t":"2026-02-03T09:00","dem":81.7,"chg":2.2,"hyd":1,"off":12.4,"on":50,"pv":20.5,"dis":0,"h2":0},
      {"t":"2026-02-03T10:00","dem":82,"chg":13.3,"hyd":1,"off":12.4,"on":48,"pv":33.9,"dis":0,"h2":0},
      {"t":"2026-02-03T11:00","dem":82,"chg":25.7,"hyd":1,"off":12.4,"on":46,"pv":48.3,"dis":0,"h2":0},
      {"t":"2026-02-03T12:00","dem":82.2,"chg":31,"hyd":1,"off":12.4,"on":44.1,"pv":55.7,"dis":0,"h2":0},
      {"t":"2026-02-03T13:00","dem":81.5,"chg":28.1,"hyd":1,"off":12.4,"on":43.5,"pv":52.7,"dis":0,"h2":0},
      {"t":"2026-02-03T14:00","dem":80.3,"chg":17.8,"hyd":1,"off":12.4,"on":43.7,"pv":41,"dis":0,"h2":0},
      {"t":"2026-02-03T15:00","dem":79.3,"chg":2.2,"hyd":1,"off":12.4,"on":44.5,"pv":20,"dis":0,"h2":3.6},
      {"t":"2026-02-03T16:00","dem":79.6,"chg":0,"hyd":1,"off":13.2,"on":45.6,"pv":7.6,"dis":0,"h2":12.2},
      {"t":"2026-02-03T17:00","dem":82,"chg":0,"hyd":1,"off":12.4,"on":46,"pv":0.3,"dis":22.3,"h2":0},
      {"t":"2026-02-03T18:00","dem":82,"chg":0,"hyd":1,"off":12.4,"on":45.3,"pv":0,"dis":23.3,"h2":0},
      {"t":"2026-02-03T19:00","dem":80,"chg":0,"hyd":1,"off":12.4,"on":44.1,"pv":0,"dis":22.5,"h2":0},
      {"t":"2026-02-03T20:00","dem":76.2,"chg":0,"hyd":1,"off":12.4,"on":42.9,"pv":0,"dis":19.9,"h2":0},
      {"t":"2026-02-03T21:00","dem":72.4,"chg":0,"hyd":1,"off":12.4,"on":41.3,"pv":0,"dis":17.7,"h2":0},
      {"t":"2026-02-03T22:00","dem":68.6,"chg":0,"hyd":1,"off":12.4,"on":39.3,"pv":0,"dis":15.9,"h2":0},
      {"t":"2026-02-03T23:00","dem":64.6,"chg":0,"hyd":1,"off":12.4,"on":37.7,"pv":0,"dis":13,"h2":0.5},
      {"t":"2026-02-04T00:00","dem":61,"chg":0,"hyd":1,"off":12.8,"on":33.8,"pv":0,"dis":0,"h2":13.4},
      {"t":"2026-02-04T01:00","dem":59.6,"chg":0,"hyd":1,"off":13,"on":31.6,"pv":0,"dis":0,"h2":14},
      {"t":"2026-02-04T02:00","dem":59.3,"chg":0,"hyd":1,"off":13.2,"on":29.6,"pv":0,"dis":0,"h2":15.5},
      {"t":"2026-02-04T03:00","dem":58.6,"chg":0,"hyd":1,"off":13.2,"on":28.3,"pv":0,"dis":0,"h2":16.1},
      {"t":"2026-02-04T04:00","dem":60,"chg":0,"hyd":1,"off":13.2,"on":26.8,"pv":0,"dis":0,"h2":19},
      {"t":"2026-02-04T05:00","dem":63.4,"chg":0,"hyd":1,"off":13.2,"on":26,"pv":0,"dis":0,"h2":23.2},
      {"t":"2026-02-04T06:00","dem":70.5,"chg":0,"hyd":1,"off":13.2,"on":25.9,"pv":0,"dis":0,"h2":30.4},
      {"t":"2026-02-04T07:00","dem":76.2,"chg":0,"hyd":1,"off":13,"on":26.1,"pv":0,"dis":0,"h2":36.1},
      {"t":"2026-02-04T08:00","dem":79.4,"chg":0,"hyd":1,"off":13,"on":25.7,"pv":7.1,"dis":0,"h2":32.6},
      {"t":"2026-02-04T09:00","dem":80.5,"chg":0,"hyd":1,"off":12.8,"on":25.1,"pv":26.9,"dis":0,"h2":14.7},
      {"t":"2026-02-04T10:00","dem":80.2,"chg":0,"hyd":1,"off":13,"on":24.1,"pv":42.1,"dis":0,"h2":0},
      {"t":"2026-02-04T11:00","dem":80,"chg":15.8,"hyd":1,"off":12.6,"on":22.5,"pv":59.7,"dis":0,"h2":0},
      {"t":"2026-02-04T12:00","dem":79.4,"chg":21.1,"hyd":1,"off":12.4,"on":21.3,"pv":65.8,"dis":0,"h2":0},
      {"t":"2026-02-04T13:00","dem":78.1,"chg":17.2,"hyd":1,"off":12.4,"on":20.9,"pv":61,"dis":0,"h2":0},
      {"t":"2026-02-04T14:00","dem":76.5,"chg":4,"hyd":1,"off":12.4,"on":21.5,"pv":45.6,"dis":0,"h2":0},
      {"t":"2026-02-04T15:00","dem":76.4,"chg":0,"hyd":1,"off":12.4,"on":23.7,"pv":22.3,"dis":0,"h2":17},
      {"t":"2026-02-04T16:00","dem":76.5,"chg":0,"hyd":1,"off":12.4,"on":27.1,"pv":7.8,"dis":0,"h2":28.2},
      {"t":"2026-02-04T17:00","dem":78.9,"chg":0,"hyd":1,"off":12.6,"on":31,"pv":0.6,"dis":0,"h2":33.7},
      {"t":"2026-02-04T18:00","dem":80,"chg":0,"hyd":1,"off":12.6,"on":33.8,"pv":0,"dis":0,"h2":32.6},
      {"t":"2026-02-04T19:00","dem":78.9,"chg":0,"hyd":1,"off":12.6,"on":34.9,"pv":0,"dis":0,"h2":30.4},
      {"t":"2026-02-04T20:00","dem":75.8,"chg":0,"hyd":1,"off":12.4,"on":35.1,"pv":0,"dis":0,"h2":27.3},
      {"t":"2026-02-04T21:00","dem":71,"chg":0,"hyd":1,"off":12.6,"on":34.1,"pv":0,"dis":22.8,"h2":0.5},
      {"t":"2026-02-04T22:00","dem":67.7,"chg":0,"hyd":1,"off":12.8,"on":32.8,"pv":0,"dis":11.7,"h2":9.4},
      {"t":"2026-02-04T23:00","dem":64.1,"chg":0,"hyd":1,"off":12.8,"on":31.8,"pv":0,"dis":16.2,"h2":2.3}
    ]
  },
  "data": {"name": "hourly"},
  "bounds": "flush",
  "spacing": 115,
  "resolve": {"scale": {"color": "independent"}, "legend": {"color": "independent"}},
  "vconcat": [
    {
      "title": "demand",
      "width": 1548,
      "height": 558,
      "transform": [
        {"fold": ["dem", "chg"], "as": ["k", "v"]},
        {"lookup": "k", "from": {"data": {"name": "series"}, "key": "k", "fields": ["name", "rank"]}}
      ],
      "mark": {"type": "area", "interpolate": "linear"},
      "encoding": {
        "x": {
          "field": "t",
          "type": "temporal",
          "title": null,
          "scale": {"domain": [{"year": 2026, "month": 1, "date": 26, "hours": 0}, {"year": 2026, "month": 2, "date": 4, "hours": 23}], "nice": false},
          "axis": {
            "values": [
              {"year": 2026, "month": 1, "date": 26}, {"year": 2026, "month": 1, "date": 27},
              {"year": 2026, "month": 1, "date": 28}, {"year": 2026, "month": 1, "date": 29},
              {"year": 2026, "month": 1, "date": 30}, {"year": 2026, "month": 1, "date": 31},
              {"year": 2026, "month": 2, "date": 1}, {"year": 2026, "month": 2, "date": 2},
              {"year": 2026, "month": 2, "date": 3}, {"year": 2026, "month": 2, "date": 4},
              {"year": 2026, "month": 2, "date": 4, "hours": 23}
            ],
            "labelExpr": "hours(datum.value) != 0 ? '' : date(datum.value) == 1 ? ['01', 'Feb', '2026'] : timeFormat(datum.value, '%d')",
            "tickSize": {"condition": {"test": "date(datum.value) == 1 || hours(datum.value) == 23", "value": 7.5}, "value": 4},
            "labelPadding": {"condition": {"test": "date(datum.value) == 1", "value": 11.5}, "value": 8}
          }
        },
        "y": {
          "field": "v",
          "type": "quantitative",
          "stack": "zero",
          "title": "power [GW]",
          "scale": {"domain": [0, 119], "nice": false},
          "axis": {"values": [0, 20, 40, 60, 80, 100]}
        },
        "color": {
          "field": "name",
          "type": "nominal",
          "scale": {"domain": ["battery charger", "today's demand"], "range": ["#999999", "#000000"]},
          "legend": {"title": null}
        },
        "order": {"field": "rank", "type": "quantitative"}
      }
    },
    {
      "title": "supply",
      "width": 1548,
      "height": 558,
      "transform": [
        {"fold": ["hyd", "off", "on", "pv", "dis", "h2"], "as": ["k", "v"]},
        {"lookup": "k", "from": {"data": {"name": "series"}, "key": "k", "fields": ["name", "rank"]}}
      ],
      "mark": {"type": "area", "interpolate": "linear"},
      "encoding": {
        "x": {
          "field": "t",
          "type": "temporal",
          "title": null,
          "scale": {"domain": [{"year": 2026, "month": 1, "date": 26, "hours": 0}, {"year": 2026, "month": 2, "date": 4, "hours": 23}], "nice": false},
          "axis": {
            "values": [
              {"year": 2026, "month": 1, "date": 26}, {"year": 2026, "month": 1, "date": 27},
              {"year": 2026, "month": 1, "date": 28}, {"year": 2026, "month": 1, "date": 29},
              {"year": 2026, "month": 1, "date": 30}, {"year": 2026, "month": 1, "date": 31},
              {"year": 2026, "month": 2, "date": 1}, {"year": 2026, "month": 2, "date": 2},
              {"year": 2026, "month": 2, "date": 3}, {"year": 2026, "month": 2, "date": 4},
              {"year": 2026, "month": 2, "date": 4, "hours": 23}
            ],
            "labelExpr": "hours(datum.value) != 0 ? '' : date(datum.value) == 1 ? ['01', 'Feb', '2026'] : timeFormat(datum.value, '%d')",
            "tickSize": {"condition": {"test": "date(datum.value) == 1 || hours(datum.value) == 23", "value": 7.5}, "value": 4},
            "labelPadding": {"condition": {"test": "date(datum.value) == 1", "value": 11.5}, "value": 8}
          }
        },
        "y": {
          "field": "v",
          "type": "quantitative",
          "stack": "zero",
          "title": "power [GW]",
          "scale": {"domain": [0, 119], "nice": false},
          "axis": {"values": [0, 20, 40, 60, 80, 100]}
        },
        "color": {
          "field": "name",
          "type": "nominal",
          "scale": {
            "domain": ["hydrogen turbine", "battery discharger", "solar PV", "onshore wind", "offshore wind", "hydroelectricity"],
            "range": ["#ff0000", "#999999", "#ffff00", "#3b6182", "#5b83a5", "#008000"]
          },
          "legend": {"title": null}
        },
        "order": {"field": "rank", "type": "quantitative"}
      }
    }
  ],
  "config": {
    "font": "DejaVu Sans",
    "view": {"stroke": null},
    "title": {"fontSize": 39, "fontWeight": "normal", "color": "#000000", "offset": 9, "anchor": "middle"},
    "axis": {
      "domain": false,
      "grid": false,
      "labelColor": "#555555",
      "labelFontSize": 26,
      "tickColor": "#555555",
      "tickWidth": 1.5,
      "titleColor": "#555555",
      "titleFontSize": 32,
      "titleFontWeight": "normal"
    },
    "axisX": {
      "offset": 3.5,
      "labelLineHeight": 31.5,
      "labelFlush": false,
      "labelOverlap": false,
      "labelBound": false
    },
    "axisY": {"offset": 2, "tickSize": 8.5, "labelPadding": 10.5, "titlePadding": 15},
    "legend": {
      "orient": "none",
      "legendX": 11,
      "legendY": 10,
      "fillColor": "rgba(229,229,229,0.8)",
      "strokeColor": "#cccccc",
      "cornerRadius": 4,
      "padding": 8,
      "symbolType": "M-1.5,-1H4.5V1H-1.5Z",
      "symbolSize": 225,
      "symbolStrokeWidth": 0,
      "symbolOpacity": 1,
      "labelFontSize": 22.3,
      "labelColor": "#000000",
      "labelOffset": 40,
      "labelLimit": 0,
      "rowPadding": 11
    }
  }
}
